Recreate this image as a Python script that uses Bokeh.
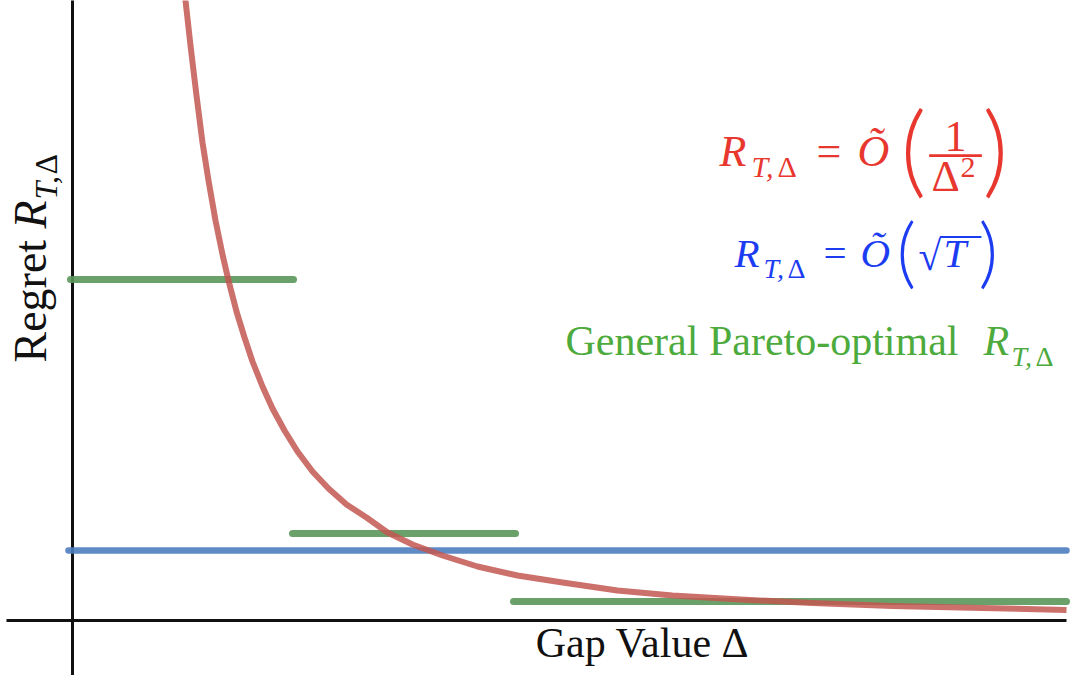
from math import pi
from bokeh.plotting import figure
from bokeh.models import Range1d, Label
from bokeh.embed import file_html
from bokeh.resources import INLINE

# ---- data (gap Δ on x, regret on y) ----
red_delta = [1.10, 1.13, 1.18, 1.24, 1.30, 1.36, 1.43, 1.50, 1.56, 1.64, 1.72,
             1.80, 1.90, 2.00, 2.12, 2.25, 2.40, 2.56, 2.74, 2.94, 3.15, 3.40,
             3.70, 4.05, 4.45, 4.90, 5.45, 6.00, 6.68, 7.40, 8.20, 9.10, 9.94]
red_regret = [6.55, 6.20, 5.75, 5.25, 4.78, 4.40, 4.00, 3.66, 3.40, 3.09, 2.83,
              2.59, 2.34, 2.12, 1.90, 1.69, 1.49, 1.32, 1.16, 1.03, 0.88, 0.76,
              0.65, 0.54, 0.45, 0.38, 0.30, 0.25, 0.21, 0.175, 0.145, 0.125, 0.105]

green_start = [-0.02, 2.20, 4.41]
green_end = [2.21, 4.43, 9.94]
green_regret = [3.41, 0.87, 0.19]

blue_delta = [-0.04, 9.94]
blue_regret = [0.70, 0.70]

axis_x_extent = [-0.66, 9.94]
axis_y_extent = [-0.60, 6.30]

RED_LINE = "#c25750"
GREEN_LINE = "#5a975a"
BLUE_LINE = "#4c7dc0"
RED_TEXT = "#e7372e"
BLUE_TEXT = "#1c3cf2"
GREEN_TEXT = "#4daa3c"
FONT = "Liberation Serif"
PAREN_FONT = "DejaVu Sans ExtraLight, Lato Light, Liberation Serif"

W, H = 1086, 675
p = figure(width=W, height=H, x_range=Range1d(-0.72, 10.14),
           y_range=Range1d(-0.55, 6.20), output_backend="svg",
           toolbar_location=None, min_border=0)
p.axis.visible = False
p.grid.visible = False
p.outline_line_color = None
p.background_fill_color = "white"
p.border_fill_color = "white"

# axes drawn as lines
p.segment(x0=[axis_x_extent[0]], y0=[0], x1=[axis_x_extent[1]], y1=[0],
          line_color="#111111", line_width=3)
p.segment(x0=[0], y0=[axis_y_extent[0]], x1=[0], y1=[axis_y_extent[1]],
          line_color="#111111", line_width=3)

# data lines
p.segment(x0=green_start, y0=green_regret, x1=green_end, y1=green_regret,
          line_color=GREEN_LINE, line_width=7, line_cap="round", line_alpha=0.9)
p.line(blue_delta, blue_regret, line_color=BLUE_LINE, line_width=6.5,
       line_cap="round", line_alpha=0.9)
p.line(red_delta, red_regret, line_color=RED_LINE, line_width=6,
       line_join="round", line_alpha=0.85)

SHIFT = 0.36  # baseline correction (em)


def lab(text, rx, ry, size, color, style="normal", align="left",
        rotated=False, font=FONT):
    if rotated:
        x = rx - SHIFT * size
        y = H - ry
        ang = pi / 2
    else:
        x = rx
        y = H - ry + SHIFT * size
        ang = 0.0
    p.add_layout(Label(x=x, y=y, x_units="screen", y_units="screen",
                       text=text, text_font=font, text_font_size=f"{size}px",
                       text_color=color, text_font_style=style,
                       text_align=align, text_baseline="alphabetic",
                       angle=ang))


# red formula  R_{T,Δ} = Õ(1/Δ²)
lab("R", 719, 167, 44, RED_TEXT, "italic")
lab("T,", 751, 177, 30, RED_TEXT, "italic")
lab("Δ", 777, 177, 30, RED_TEXT)
lab("=", 816, 167, 44, RED_TEXT)
lab("Õ", 857, 167, 44, RED_TEXT, "italic")
lab("(", 900, 181, 100, RED_TEXT, font=PAREN_FONT)
lab("1", 955, 152, 44, RED_TEXT, align="center")
lab("—", 955, 169, 52, RED_TEXT, align="center")
lab("Δ", 931, 192, 44, RED_TEXT)
lab("2", 960, 178, 30, RED_TEXT)
lab(")", 982, 181, 100, RED_TEXT, font=PAREN_FONT)

# blue formula  R_{T,Δ} = Õ(√T)
lab("R", 734, 267, 41, BLUE_TEXT, "italic")
lab("T,", 763, 278, 28, BLUE_TEXT, "italic")
lab("Δ", 787, 278, 28, BLUE_TEXT)
lab("=", 823, 267, 41, BLUE_TEXT)
lab("Õ", 860, 267, 41, BLUE_TEXT, "italic")
lab("(", 896, 276, 76, BLUE_TEXT, font=PAREN_FONT)
lab("√", 918, 270, 41, BLUE_TEXT)
lab("—", 960, 246, 41, BLUE_TEXT, align="center")
lab("T", 943, 267, 41, BLUE_TEXT, "italic")
lab(")", 978, 276, 76, BLUE_TEXT, font=PAREN_FONT)

# green legend text
lab("General Pareto-optimal", 565, 356, 42, GREEN_TEXT)
lab("R", 983, 356, 42, GREEN_TEXT, "italic")
lab("T,", 1011, 366, 28, GREEN_TEXT, "italic")
lab("Δ", 1035, 366, 28, GREEN_TEXT)

# x axis title
lab("Gap Value Δ", 642, 658, 42, "#111111", align="center")

# y axis title (rotated, reads bottom to top)
lab("Regret", 47, 362, 46, "#111111", rotated=True)
lab("R", 47, 228, 46, "#111111", "italic", rotated=True)
lab("T,", 57, 199, 32, "#111111", "italic", rotated=True)
lab("Δ", 57, 174, 32, "#111111", rotated=True)

open("out.html", "w").write(file_html(p, INLINE))
